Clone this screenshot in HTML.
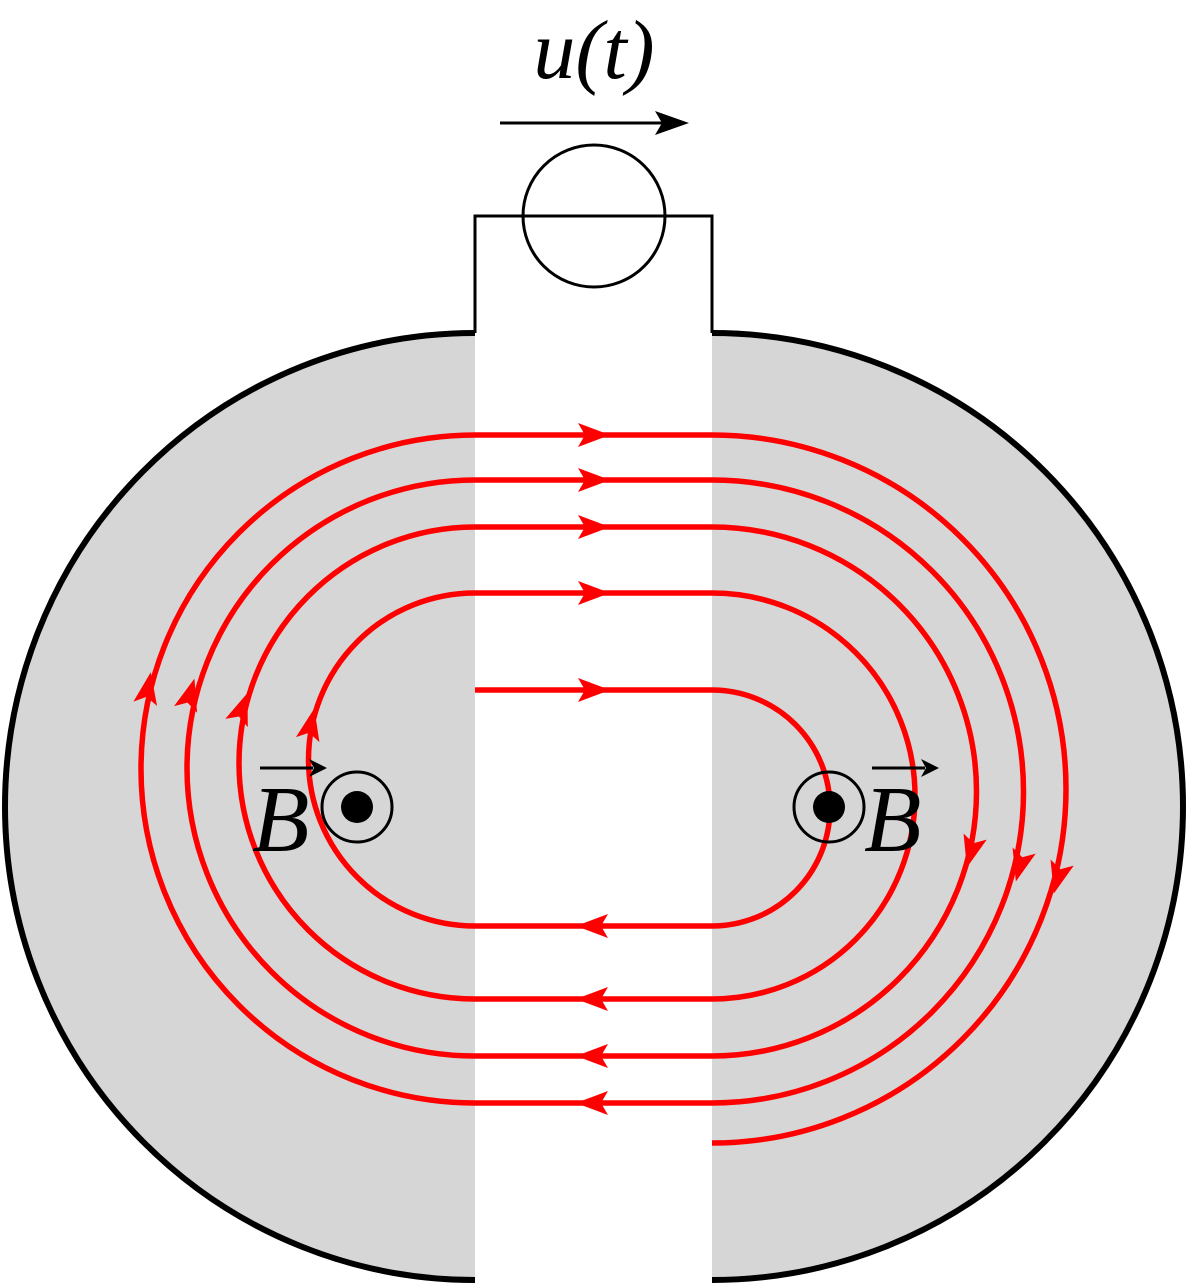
<!DOCTYPE html>
<html><head><meta charset="utf-8"><style>
html,body{margin:0;padding:0;background:#fff;}
svg{display:block;}
</style></head><body>
<svg width="1188" height="1284" viewBox="0 0 1188 1284" xmlns="http://www.w3.org/2000/svg">
  <path d="M475,333 A470,473.5 0 0 0 475,1280 Z" fill="#d6d6d6"/>
  <path d="M712,333 A471,473.5 0 0 1 712,1280 Z" fill="#d6d6d6"/>
  <path d="M475,333 A470,473.5 0 0 0 475,1280" fill="none" stroke="#000" stroke-width="6"/>
  <path d="M712,333 A471,473.5 0 0 1 712,1280" fill="none" stroke="#000" stroke-width="6"/>

  <path d="M475,333 V216 H712 V333" fill="none" stroke="#000" stroke-width="3"/>
  <circle cx="594" cy="216" r="71" fill="none" stroke="#000" stroke-width="3"/>
  <line x1="500" y1="123" x2="665" y2="123" stroke="#000" stroke-width="3"/>
  <path d="M689,123 L655,111 L662,123 L655,135 Z" fill="#000"/>
  <text x="594" y="78" text-anchor="middle" font-family="Liberation Serif, serif" font-style="italic" font-size="84">u(t)</text>

  <path fill="none" stroke="#ff0000" stroke-width="5.5"
    d="M475,690 H712 A118,118 0 0 1 712,926 H475 A166.5,166.5 0 0 1 475,593 H712 A203,203 0 0 1 712,999 H475 A236,236 0 0 1 475,527 H712 A264.5,264.5 0 0 1 712,1056 H475 A288,288 0 0 1 475,480 H712 A311.5,311.5 0 0 1 712,1103 H475 A334,334 0 0 1 475,435 H712 A354,354 0 0 1 712,1143"/>

  <g fill="#ff0000">
    <path d="M610,435 l-32,-12 l7,12 l-7,12 Z"/>
    <path d="M610,480 l-32,-12 l7,12 l-7,12 Z"/>
    <path d="M610,527 l-32,-12 l7,12 l-7,12 Z"/>
    <path d="M610,593 l-32,-12 l7,12 l-7,12 Z"/>
    <path d="M610,690 l-32,-12 l7,12 l-7,12 Z"/>
    <path d="M576,926 l32,-12 l-7,12 l7,12 Z"/>
    <path d="M576,999 l32,-12 l-7,12 l7,12 Z"/>
    <path d="M576,1056 l32,-12 l-7,12 l7,12 Z"/>
    <path d="M576,1103 l32,-12 l-7,12 l7,12 Z"/>
    <path transform="translate(148,688) rotate(-80)" d="M16,0 l-32,-12 l7,12 l-7,12 Z"/>
    <path transform="translate(190,694) rotate(-74)" d="M16,0 l-32,-12 l7,12 l-7,12 Z"/>
    <path transform="translate(242,708) rotate(-70)" d="M16,0 l-32,-12 l7,12 l-7,12 Z"/>
    <path transform="translate(311,724) rotate(-78)" d="M16,0 l-32,-12 l7,12 l-7,12 Z"/>
    <path transform="translate(971,852) rotate(105)" d="M16,0 l-32,-12 l7,12 l-7,12 Z"/>
    <path transform="translate(1020,866) rotate(105)" d="M16,0 l-32,-12 l7,12 l-7,12 Z"/>
    <path transform="translate(1058,878) rotate(105)" d="M16,0 l-32,-12 l7,12 l-7,12 Z"/>
  </g>

  <g>
    <text x="252" y="851" font-family="Liberation Serif, serif" font-style="italic" font-size="94">B</text>
    <line x1="260" y1="768" x2="313" y2="768" stroke="#000" stroke-width="3"/>
    <path d="M327,768 l-18,-9 l5,9 l-5,9 Z" fill="#000"/>
  </g>
  <g>
    <circle cx="357" cy="807" r="35" fill="none" stroke="#000" stroke-width="3"/>
    <circle cx="357" cy="807" r="16" fill="#000"/>
  </g>
  <g>
    <circle cx="829" cy="807" r="35" fill="none" stroke="#000" stroke-width="3"/>
    <circle cx="829" cy="807" r="16" fill="#000"/>
  </g>
  <g>
    <text x="864" y="851" font-family="Liberation Serif, serif" font-style="italic" font-size="94">B</text>
    <line x1="872" y1="768" x2="925" y2="768" stroke="#000" stroke-width="3"/>
    <path d="M939,768 l-18,-9 l5,9 l-5,9 Z" fill="#000"/>
  </g>
</svg>
</body></html>
